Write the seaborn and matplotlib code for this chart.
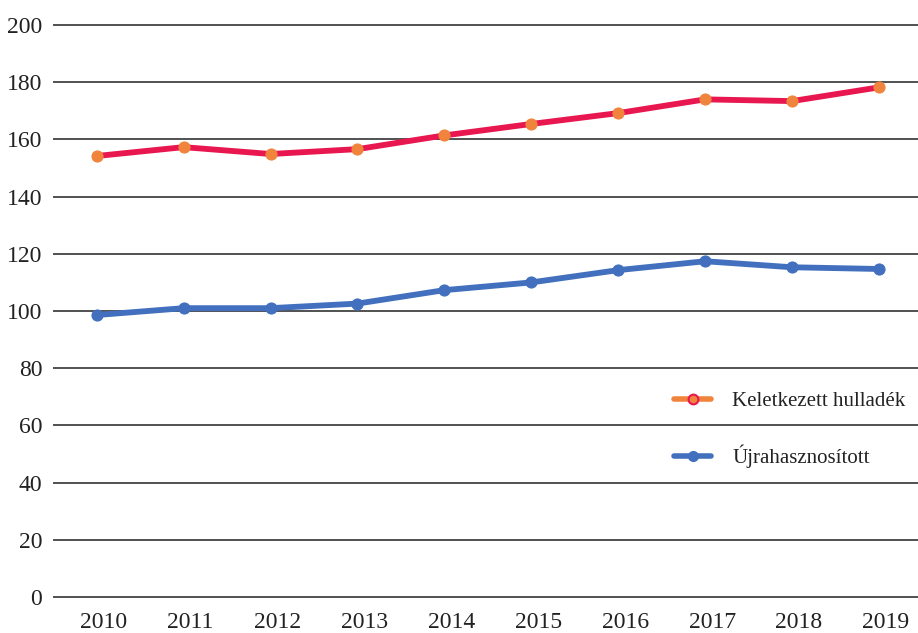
import seaborn as sns
import matplotlib.pyplot as plt
import pandas as pd
from matplotlib.lines import Line2D
from matplotlib.transforms import ScaledTranslation

years = [2010, 2011, 2012, 2013, 2014, 2015, 2016, 2017, 2018, 2019]
keletkezett = [154.2, 157.3, 154.9, 156.6, 161.4, 165.4, 169.2, 174.0, 173.4, 178.2]
ujrahasznositott = [98.6, 101.0, 101.0, 102.6, 107.3, 110.0, 114.3, 117.4, 115.3, 114.7]
labels = ["Keletkezett hulladék", "Újrahasznosított"]

df = pd.DataFrame({"pos": range(len(years)), "k": keletkezett, "u": ujrahasznositott})

sns.set_style("white")
plt.rcParams["font.family"] = ["Liberation Serif", "DejaVu Serif"]

fig = plt.figure(figsize=(9.18, 6.33), dpi=100)
ax = fig.add_axes([0.058, 0.0523, 0.942, 0.9127])

red, orange, blue = "#E8174F", "#F0843C", "#4270BE"

sns.lineplot(data=df, x="pos", y="k", ax=ax, color=red, linewidth=4.2,
             marker="o", markersize=8, markerfacecolor=orange,
             markeredgecolor=orange, zorder=3)
sns.lineplot(data=df, x="pos", y="u", ax=ax, color=blue, linewidth=4.2,
             marker="o", markersize=8, markerfacecolor=blue,
             markeredgecolor=blue, zorder=3)

ax.set_xlim(-0.5, 9.45)
ax.set_ylim(-1, 201)
ax.set_yticks(range(0, 201, 20))
ax.set_xticks(range(len(years)))
ax.set_xticklabels([str(y) for y in years])
ax.yaxis.grid(True, color="#222222", linewidth=1.1)
ax.xaxis.grid(False)
for s in ax.spines.values():
    s.set_visible(False)
ax.tick_params(axis="both", length=0, labelsize=17, colors="#222222")
ax.tick_params(axis="y", pad=8)
ax.tick_params(axis="x", pad=8.5)
off = ScaledTranslation(0.07, 0, fig.dpi_scale_trans)
for t in ax.get_xticklabels():
    t.set_transform(t.get_transform() + off)
ax.set_xlabel("")
ax.set_ylabel("")

handles = [
    Line2D([0], [0], color=orange, linewidth=4, marker="o", markersize=7,
           markerfacecolor=orange, markeredgecolor=red, markeredgewidth=1.5),
    Line2D([0], [0], color=blue, linewidth=4, marker="o", markersize=7,
           markerfacecolor=blue, markeredgecolor=blue),
]
ax.legend(handles, labels, loc="upper left", bbox_to_anchor=(0.696, 0.393),
          frameon=False, fontsize=15, handlelength=1.8, handletextpad=1.0,
          labelspacing=1.6, labelcolor="#222222")

fig.savefig("out.png", dpi=100)
